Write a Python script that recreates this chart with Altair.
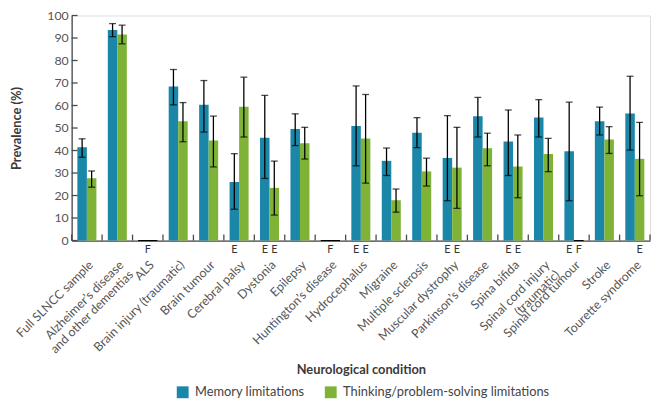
import altair as alt
import pandas as pd

categories = [
    "Full SLNCC sample", "Alzheimer’s disease|and other dementias", "ALS",
    "Brain injury (traumatic)", "Brain tumour", "Cerebral palsy", "Dystonia",
    "Epilepsy", "Huntington’s disease", "Hydrocephalus", "Migraine",
    "Multiple sclerosis", "Muscular dystrophy", "Parkinson’s disease",
    "Spina bifida", "Spinal cord injury|(traumatic)", "Spinal cord tumour",
    "Stroke", "Tourette syndrome",
]
series_names = ["Memory limitations", "Thinking/problem-solving limitations"]

memory = [41.4, 93.6, None, 68.4, 60.3, 26.0, 45.7, 49.6, None, 50.9, 35.4,
          47.9, 36.7, 55.2, 44.0, 54.7, 39.7, 53.0, 56.4]
memory_lo = [37.0, 90.6, None, 60.3, 48.2, 13.9, 27.6, 42.2, None, 33.2, 28.9,
             41.3, 17.7, 46.0, 28.9, 46.0, 17.7, 46.9, 40.2]
memory_hi = [45.2, 96.4, None, 76.0, 71.1, 38.6, 64.5, 56.3, None, 68.7, 41.1,
             54.6, 55.5, 63.6, 58.0, 62.6, 61.5, 59.3, 73.0]
thinking = [27.7, 91.6, None, 53.0, 44.4, 59.4, 23.4, 43.2, None, 45.3, 17.9,
            30.7, 32.4, 41.0, 32.9, 38.4, None, 44.9, 36.3]
thinking_lo = [23.7, 87.4, None, 43.9, 32.7, 46.0, 11.3, 36.2, None, 25.5, 12.6,
               24.2, 14.3, 33.2, 19.0, 30.6, None, 38.7, 19.9]
thinking_hi = [30.9, 95.7, None, 61.3, 55.3, 72.6, 35.3, 50.3, None, 64.9, 22.9,
               36.6, 50.3, 47.7, 46.9, 45.4, None, 50.6, 52.5]
memory_flags = ["", "", "", "", "", "E", "E", "", "", "E", "", "", "E", "",
                "E", "", "E", "", ""]
thinking_flags = ["", "", "", "", "", "", "E", "", "", "E", "", "", "E", "",
                  "E", "", "F", "", "E"]
center_flags = ["", "", "F", "", "", "", "", "", "F", "", "", "", "", "", "",
                "", "", "", ""]
y_ticks = [0, 10, 20, 30, 40, 50, 60, 70, 80, 90, 100]

rows = []
for i, c in enumerate(categories):
    for s, vals, los, his, flags in [
        (series_names[0], memory, memory_lo, memory_hi, memory_flags),
        (series_names[1], thinking, thinking_lo, thinking_hi, thinking_flags),
    ]:
        v = vals[i]
        rows.append({
            "cat": c, "series": s,
            "value": 0 if v is None else v,
            "missing": v is None,
            "lo": los[i], "hi": his[i], "flag": flags[i],
        })
df = pd.DataFrame(rows)
df_cat = pd.DataFrame({"cat": categories, "cflag": center_flags})
df_last = df_cat.tail(1)
df_y = pd.DataFrame({"t": y_ticks})

W, H = 586, 228
FONT = "Lato"
AXC = "#4a4a4a"
TEAL = "#1a86a8"
GREEN = "#7eb337"

xscale = alt.Scale(domain=categories, paddingInner=0, paddingOuter=0)
xoff = alt.XOffset("series:N", sort=series_names,
                   scale=alt.Scale(domain=series_names, paddingInner=0, paddingOuter=0.6))
yscale = alt.Scale(domain=[0, 100], nice=False)

x_axis = alt.Axis(
    title="Neurological condition", labelAngle=-45, labelPadding=18,
    labelFont=FONT, labelFontSize=12.5, labelColor="#555", labelOverlap=False,
    labelExpr="split(datum.label, '|')", labelLineHeight=14, labelLimit=300,
    ticks=False, domainColor=AXC, domainWidth=1.3,
    titleFont=FONT, titleFontSize=13, titleFontWeight="bold", titleColor="#3a3a3a",
    titleY=131, titleBaseline="middle",
)
y_axis = alt.Axis(
    title="Prevalence (%)", values=y_ticks, tickCount=11, ticks=False, grid=False,
    labelOverlap=False,
    domainColor=AXC, domainWidth=1.3, labelFont=FONT, labelFontSize=12.5,
    labelColor="#555", labelPadding=3.5,
    titleFont=FONT, titleFontSize=13, titleFontWeight="bold", titleColor="#3a3a3a",
    titlePadding=24,
)


def xo(**kw):
    return alt.X("cat:N", sort=categories, scale=xscale, axis=x_axis, **kw)


def yo(field):
    return alt.Y(field, scale=yscale, axis=y_axis)


base = alt.Chart(df)

bars = base.mark_bar().encode(
    x=xo(), xOffset=xoff, y=yo("value:Q"),
    color=alt.Color(
        "series:N", sort=series_names,
        scale=alt.Scale(domain=series_names, range=[TEAL, GREEN]),
        legend=alt.Legend(
            title=None, orient="none", direction="horizontal", legendX=106, legendY=375,
            symbolType="square", symbolSize=144, symbolStrokeWidth=0, symbolOpacity=1,
            labelFont=FONT, labelFontSize=13, labelColor="#444", labelLimit=400,
            columnPadding=20, labelOffset=6,
        ),
    ),
)

zero_bars = base.transform_filter("datum.missing").mark_bar(
    fillOpacity=0, stroke="black", strokeWidth=1
).encode(x=xo(), xOffset=xoff, y=yo("value:Q"))

err = base.transform_filter("datum.lo != null")
err_rule = err.mark_rule(color="black", strokeWidth=1.3).encode(
    x=xo(), xOffset=xoff, y=yo("lo:Q"), y2="hi:Q",
)
cap_lo = err.mark_tick(color="black", size=7, thickness=1.3).encode(
    x=xo(), xOffset=xoff, y=yo("lo:Q"),
)
cap_hi = err.mark_tick(color="black", size=7, thickness=1.3).encode(
    x=xo(), xOffset=xoff, y=yo("hi:Q"),
)

flags = base.mark_text(font=FONT, fontSize=11, color="#333", baseline="middle").encode(
    x=xo(), xOffset=xoff, y=alt.value(H + 10), text="flag:N",
)
cflags = alt.Chart(df_cat).mark_text(font=FONT, fontSize=11, color="#333", baseline="middle").encode(
    x=xo(), y=alt.value(H + 10), text="cflag:N",
)

xticks = alt.Chart(df_cat).mark_rule(color=AXC, strokeWidth=1.3).encode(
    x=xo(bandPosition=0),
    y=alt.value(H), y2=alt.value(H - 6),
)
xtick_end = alt.Chart(df_last).mark_rule(color=AXC, strokeWidth=1.3).encode(
    x=xo(bandPosition=1),
    y=alt.value(H), y2=alt.value(H - 6),
)
yticks = alt.Chart(df_y).mark_rule(color=AXC, strokeWidth=1.3).encode(
    y=yo("t:Q"), x=alt.value(0), x2=alt.value(6),
)

chart = alt.layer(
    bars, zero_bars, err_rule, cap_lo, cap_hi, flags, cflags, xticks, xtick_end, yticks
).properties(
    width=W, height=H,
    autosize=alt.AutoSizeParams(type="none"),
    padding={"left": 64.5, "top": 5, "right": 3, "bottom": 161},
).configure_view(stroke=None).configure(background="white")

chart.save("out.html", embed_options={"renderer": "svg", "actions": False})
